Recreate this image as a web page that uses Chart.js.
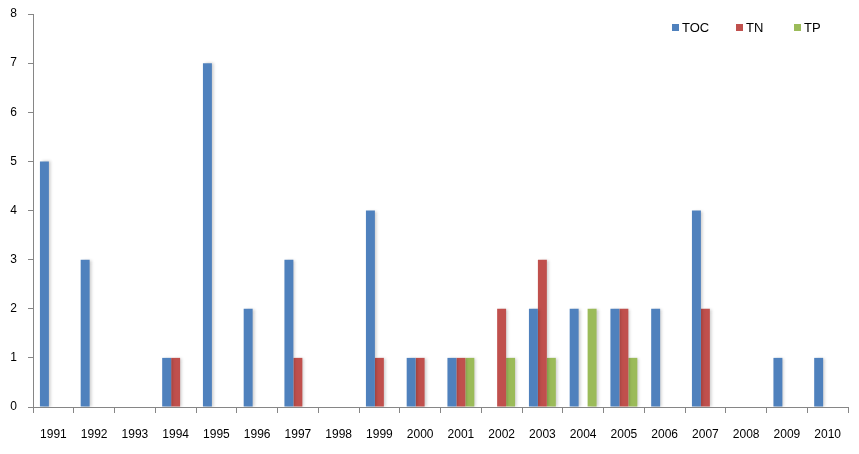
<!DOCTYPE html>
<html>
<head>
<meta charset="utf-8">
<script src="https://cdn.jsdelivr.net/npm/chart.js@4/dist/chart.umd.min.js"></script>
<style>
  html, body { margin: 0; padding: 0; background: #fff; }
  #wrap { width: 859px; height: 454px; }
</style>
</head>
<body>
<div id="wrap"><canvas id="chart"></canvas></div>
<script>
const years = ["1991","1992","1993","1994","1995","1996","1997","1998","1999","2000",
               "2001","2002","2003","2004","2005","2006","2007","2008","2009","2010"];
const toc = [5, 3, 0, 1, 7, 2, 3, 0, 4, 1, 1, 0, 2, 2, 2, 2, 4, 0, 1, 1];
const tn  = [0, 0, 0, 1, 0, 0, 1, 0, 1, 1, 1, 2, 3, 0, 2, 0, 2, 0, 0, 0];
const tp  = [0, 0, 0, 0, 0, 0, 0, 0, 0, 0, 1, 1, 1, 2, 1, 0, 0, 0, 0, 0];
const yTicks = [0, 1, 2, 3, 4, 5, 6, 7, 8];

const FONT = "'Liberation Sans', Arial, sans-serif";

/* soft shadow to the right of each bar, like the old Excel look */
const barShadow = {
    id: "barShadow",
    beforeDatasetsDraw(chart) {
        const ctx = chart.ctx;
        ctx.save();
        ctx.shadowColor = "rgba(0,0,0,0.2)";
        ctx.shadowOffsetX = 2;
        ctx.shadowOffsetY = 0;
        ctx.shadowBlur = 3;
    },
    afterDatasetsDraw(chart) {
        chart.ctx.restore();
    }
};

/* legend drawn inside the plot, top right */
const innerLegend = {
    id: "innerLegend",
    afterDraw(chart) {
        const ctx = chart.ctx;
        const xs = [672, 736, 794];
        ctx.save();
        ctx.font = "13px " + FONT;
        ctx.textBaseline = "middle";
        chart.data.datasets.forEach((ds, i) => {
            ctx.fillStyle = ds.backgroundColor;
            ctx.fillRect(xs[i], 24, 7, 7);
            ctx.fillStyle = "#000";
            ctx.fillText(ds.label, xs[i] + 10, 28);
        });
        ctx.restore();
    }
};

new Chart(document.getElementById("chart"), {
    type: "bar",
    data: {
        labels: years,
        datasets: [
            { label: "TOC", data: toc, backgroundColor: "#4F81BD" },
            { label: "TN",  data: tn,  backgroundColor: "#C0504D" },
            { label: "TP",  data: tp,  backgroundColor: "#9BBB59" }
        ]
    },
    options: {
        responsive: true,
        maintainAspectRatio: false,
        animation: false,
        layout: { padding: { top: 14, right: 11, left: 0, bottom: 0 } },
        datasets: { bar: { barPercentage: 1, categoryPercentage: 0.66 } },
        plugins: {
            legend: { display: false },
            tooltip: { enabled: false }
        },
        scales: {
            x: {
                offset: true,
                grid: {
                    offset: true,
                    drawOnChartArea: false,
                    drawTicks: true,
                    tickLength: 6,
                    color: "#868686"
                },
                border: { color: "#868686" },
                ticks: {
                    font: { family: FONT, size: 12 },
                    color: "#000",
                    padding: 14,
                    maxRotation: 0,
                    autoSkip: false
                },
                afterFit(scale) {
                    scale.height = 47;
                    scale.paddingLeft = 0;
                    scale.paddingRight = 0;
                }
            },
            y: {
                min: 0,
                max: 8,
                afterBuildTicks(scale) { scale.ticks = yTicks.map(v => ({ value: v })); },
                grid: {
                    drawOnChartArea: false,
                    drawTicks: true,
                    tickLength: 5,
                    color: "#868686"
                },
                border: { color: "#868686" },
                ticks: {
                    font: { family: FONT, size: 12 },
                    color: "#000",
                    padding: 11
                },
                afterFit(scale) {
                    scale.width = 33;
                    scale.paddingTop = 0;
                    scale.paddingBottom = 0;
                }
            }
        }
    },
    plugins: [barShadow, innerLegend]
});
</script>
</body>
</html>
